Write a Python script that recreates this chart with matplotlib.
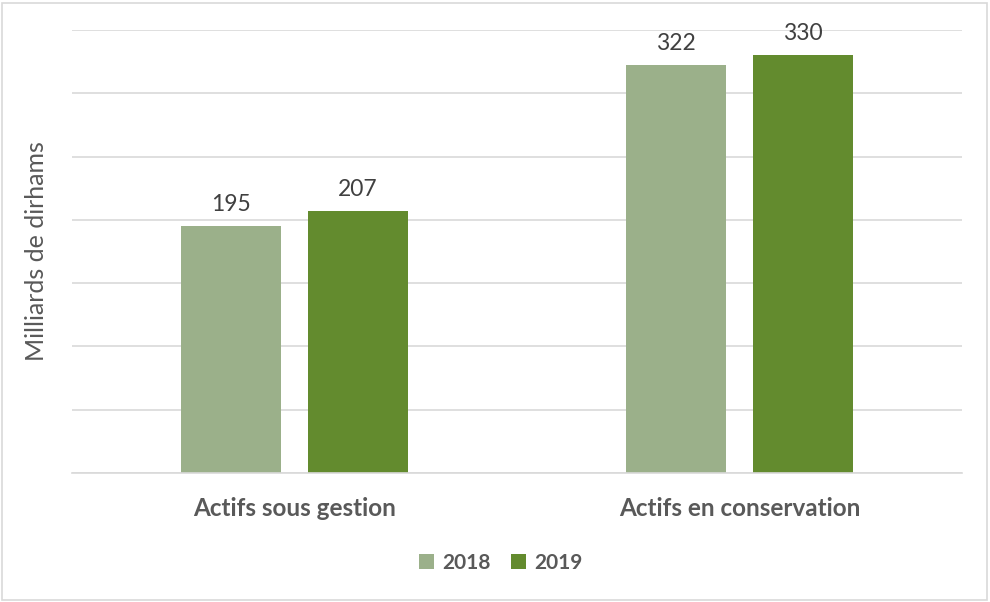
import numpy as np
import matplotlib.pyplot as plt
from matplotlib.patches import Rectangle

categories = ['Actifs sous gestion', 'Actifs en conservation']
years = ['2018', '2019']
values_2018 = [195, 322]
values_2019 = [207, 330]

colors = ['#9BB08A', '#638B2E']
text_color = '#595959'

plt.rcParams['font.family'] = ['Lato', 'DejaVu Sans']

fig = plt.figure(figsize=(9.9, 6.02), dpi=100)
ax = fig.add_axes([72/990, 1 - 473/602, 890/990, 443/602])

x = np.arange(len(categories))
w = 0.2247
off = 0.1427
b1 = ax.bar(x - off, values_2018, w, color=colors[0], label=years[0])
b2 = ax.bar(x + off, values_2019, w, color=colors[1], label=years[1])

# value labels above bars
for bars in (b1, b2):
    for r in bars:
        ax.annotate(str(int(r.get_height())), (r.get_x() + r.get_width()/2, r.get_height()),
                    xytext=(0, 8), textcoords='offset points', ha='center', va='bottom',
                    fontsize=16.5, color='#404040')

ax.set_xlim(-0.5, 1.5)
ax.set_ylim(0, 350)
ax.set_yticks(np.arange(0, 351, 50))
ax.set_yticklabels([])
ax.tick_params(axis='y', length=0)
ax.tick_params(axis='x', length=0, pad=17)
ax.set_xticks(x)
ax.set_xticklabels(categories, fontsize=17.5, fontweight='bold', color=text_color)
ax.grid(axis='y', color='#D9D9D9', linewidth=1.2)
ax.set_axisbelow(True)
for s in ['top', 'right', 'left']:
    ax.spines[s].set_visible(False)
ax.spines['bottom'].set_color('#D9D9D9')
ax.spines['bottom'].set_linewidth(1.2)

ax.set_ylabel('Milliards de dirhams', fontsize=18, color=text_color, labelpad=14)

leg = fig.legend(handles=[b1, b2], labels=years, loc='center', bbox_to_anchor=(501/990, 1 - 563/602),
                 ncol=2, frameon=False, prop={'size': 15, 'weight': 'bold'},
                 handlelength=0.7, handleheight=0.7, handletextpad=0.4, columnspacing=1.0)
for t in leg.get_texts():
    t.set_color(text_color)

fig.patches.append(Rectangle((2/990, 2/602), 985/990, 597/602, transform=fig.transFigure,
                             fill=False, edgecolor='#D9D9D9', linewidth=1.2))

fig.savefig('out.png', dpi=100)
